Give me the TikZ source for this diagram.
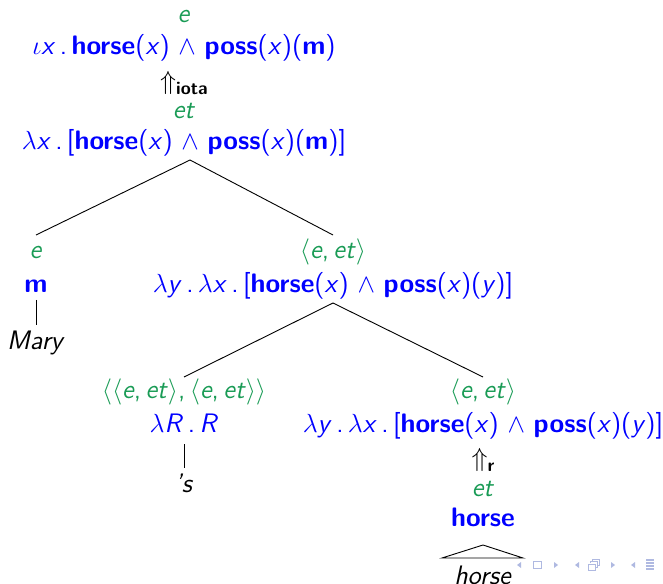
\documentclass[tikz,border=0pt]{standalone}
\usepackage{amsmath}
\definecolor{tgreen}{RGB}{25,155,85}
\definecolor{tblue}{RGB}{0,0,255}
\definecolor{navc}{RGB}{175,185,225}
\newcommand{\vx}{\textit{x}}
\newcommand{\vy}{\textit{y}}
\newcommand{\tyee}{$\langle$\textit{e},\,\textit{et}$\rangle$}
\begin{document}
\begin{tikzpicture}[x=0.55pt,y=-0.55pt,
  font=\sffamily\fontsize{14.7}{17}\selectfont,
  ty/.style={text=tgreen, inner sep=0pt, anchor=mid},
  den/.style={text=tblue, inner sep=0pt, anchor=mid},
  wd/.style={text=black, inner sep=0pt, anchor=mid},
  br/.style={line width=0.5pt},
  nav/.style={fill=navc, draw=none}]
\useasboundingbox (0,0) rectangle (663,584);
% root
\node[ty] (t0) at (184,19) {\textit{e}};
\node[den] (d0) at (184,51) {$\iota$\vx\,.\,\textbf{horse}(\vx) $\wedge$ \textbf{poss}(\vx)(\textbf{m})};
\node[wd] (u0) at (184,86) {$\Uparrow$\raisebox{-2.5pt}{\fontsize{10}{11}\selectfont\bfseries iota}};
\node[ty] (t1) at (184,115) {\textit{et}};
\node[den] (d1) at (184,146) {$\lambda$\vx\,.\,[\textbf{horse}(\vx) $\wedge$ \textbf{poss}(\vx)(\textbf{m})]};
% left child
\node[ty] (t2) at (36,255) {\textit{e}};
\node[den] (d2) at (36,289) {\textbf{m}};
\node[wd] (w2) at (36,346) {\textit{Mary}};
% right child
\node[ty] (t3) at (333,255) {\tyee};
\node[den] (d3) at (333,289) {$\lambda$\vy\,.\,$\lambda$\vx\,.\,[\textbf{horse}(\vx) $\wedge$ \textbf{poss}(\vx)(\vy)]};
% 's
\node[ty] (t4) at (184,395) {$\langle$\tyee,\,\tyee$\rangle$};
\node[den] (d4) at (184,429) {$\lambda$\textit{R}\,.\,\textit{R}};
\node[wd] (w4) at (184,489) {\textit{'s}};
% horse
\node[ty] (t5) at (483,395) {\tyee};
\node[den] (d5) at (483,429) {$\lambda$\vy\,.\,$\lambda$\vx\,.\,[\textbf{horse}(\vx) $\wedge$ \textbf{poss}(\vx)(\vy)]};
\node[wd] (u5) at (483,463) {$\Uparrow$\raisebox{-2.5pt}{\fontsize{10}{11}\selectfont\bfseries r}};
\node[ty] (t6) at (483,493) {\textit{et}};
\node[den] (d6) at (483,523) {\textbf{horse}};
\node[wd] (w6) at (483,581) {\textit{horse}};
% connector points
\coordinate (p1) at (190,160);
\coordinate (c2) at (36,235);
\coordinate (c3) at (333,235);
\coordinate (p3) at (333,303);
\coordinate (c4) at (184,377);
\coordinate (c5) at (483,377);
\draw[br] (p1) -- (c2);
\draw[br] (p1) -- (c3);
\draw[br] (p3) -- (c4);
\draw[br] (p3) -- (c5);
\coordinate (m1) at (36,300);
\coordinate (m2) at (36,325);
\draw[br] (m1) -- (m2);
\coordinate (s1) at (184,444);
\coordinate (s2) at (184,468);
\draw[br] (s1) -- (s2);
% triangle
\coordinate (ta) at (483,545);
\coordinate (tl) at (442,558);
\coordinate (tr) at (523,558);
\draw[br] (tl) -- (ta) -- (tr) -- cycle;
% navigation symbols
\fill[nav] (521,562) -- (517,565) -- (521,568) -- cycle;
\draw[navc, line width=0.5pt] (533,561.5) rectangle (541,568.5);
\fill[nav] (554,562) -- (558,565) -- (554,568) -- cycle;
\fill[nav] (579,562) -- (575,565) -- (579,568) -- cycle;
\draw[navc, line width=0.5pt] (588,564) rectangle (595,570);
\draw[navc, line width=0.5pt] (590,562) -- (590,561.5) -- (597,561.5) -- (597,567.5) -- (595,567.5);
\draw[navc, line width=0.5pt] (592,561.5) -- (592,559) -- (599,559) -- (599,565) -- (597,565);
\fill[nav] (611,562) -- (615,565) -- (611,568) -- cycle;
\fill[nav] (635,562) -- (631,565) -- (635,568) -- cycle;
\draw[navc, line width=0.7pt] (646,560) -- (654,560) (646,563) -- (654,563) (646,566) -- (654,566) (646,569) -- (654,569);
\end{tikzpicture}
\end{document}
